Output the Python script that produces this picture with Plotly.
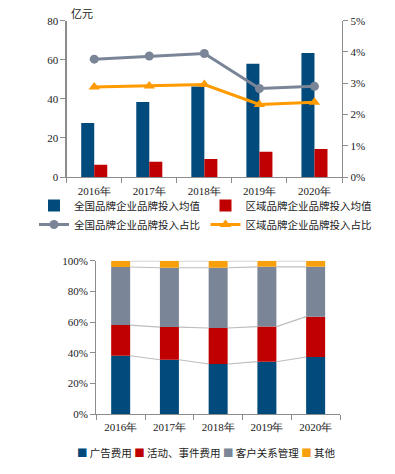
import plotly.graph_objects as go

# ---------------- data ----------------
years = ["2016年", "2017年", "2018年", "2019年", "2020年"]

# top chart
national_avg = [27.6, 38.4, 46.3, 58.0, 63.5]      # 亿元
regional_avg = [6.3, 7.8, 9.2, 12.9, 14.3]         # 亿元
national_ratio = [0.0377, 0.0387, 0.0395, 0.0283, 0.0290]
regional_ratio = [0.0288, 0.0291, 0.0296, 0.0232, 0.0239]

# bottom chart (shares, %)
ads = [38.0, 35.4, 32.6, 34.1, 37.2]
events = [20.0, 21.3, 23.5, 22.9, 26.3]
crm = [37.9, 38.7, 39.3, 39.0, 32.5]
other = [4.1, 4.6, 4.6, 4.0, 4.0]
seg_names = ["广告费用", "活动、事件费用", "客户关系管理", "其他"]

# ---------------- styles ----------------
NAVY = "#014A7C"
RED = "#C00000"
GRAY = "#7A8698"
ORANGE = "#FF9A00"
AXIS = "#8C8C8C"
SERIF = "Liberation Serif, Times New Roman, serif"
SANS = "Noto Sans CJK SC, Noto Sans, sans-serif"
W, H = 395, 474

fig = go.Figure()

# ----- top chart -----
fig.add_trace(go.Bar(x=years, y=national_avg, name="全国品牌企业品牌投入均值",
                     marker=dict(color=NAVY, line=dict(width=0)),
                     xaxis="x", yaxis="y", legend="legend"))
fig.add_trace(go.Bar(x=years, y=regional_avg, name="区域品牌企业品牌投入均值",
                     marker=dict(color=RED, line=dict(width=0)),
                     xaxis="x", yaxis="y", legend="legend"))
fig.add_trace(go.Scatter(x=years, y=national_ratio, name="全国品牌企业品牌投入占比",
                         mode="lines+markers",
                         line=dict(color=GRAY, width=3),
                         marker=dict(symbol="circle", size=9, color=GRAY),
                         xaxis="x", yaxis="y2", legend="legend"))
fig.add_trace(go.Scatter(x=years, y=regional_ratio, name="区域品牌企业品牌投入占比",
                         mode="lines+markers",
                         line=dict(color=ORANGE, width=3),
                         marker=dict(symbol="triangle-up", size=10, color=ORANGE),
                         xaxis="x", yaxis="y2", legend="legend"))

# ----- bottom chart (stacked via base) -----
seg_vals = [ads, events, crm, other]
seg_cols = [NAVY, RED, "#7A8597", "#F7A00C"]
BW = 0.39
base = [0.0] * len(years)
levels = []
for nm, vals, col in zip(seg_names, seg_vals, seg_cols):
    fig.add_trace(go.Bar(x=years, y=vals, base=list(base), name=nm,
                         width=BW, offsetgroup="share", showlegend=False,
                         marker=dict(color=col, line=dict(width=0)),
                         xaxis="x2", yaxis="y3"))
    base = [b + v for b, v in zip(base, vals)]
    levels.append(list(base))

# connector lines between stacked bars
for k, lev in enumerate(levels):
    xs, ys = [], []
    for i in range(len(years) - 1):
        xs += [i + BW / 2, i + 1 - BW / 2, None]
        ys += [lev[i], lev[i + 1], None]
    top = k == len(levels) - 1
    fig.add_trace(go.Scatter(x=xs, y=ys, mode="lines", showlegend=False,
                             hoverinfo="skip",
                             line=dict(color="#D3D3D3" if top else "#BDBDBD",
                                       width=2 if top else 1.2),
                             xaxis="x3", yaxis="y3"))

# compact key for the bottom chart (coloured squares + series names)
key_text = " ".join(
    f"<span style='color:{c}'>■</span> {n}" for n, c in zip(seg_names, seg_cols)
)

# ---------------- layout ----------------
tickfont = dict(family=SERIF, size=11, color="#1a1a1a")
common_axis = dict(showline=True, linecolor=AXIS, linewidth=1.3, ticks="outside",
                   tickcolor=AXIS, ticklen=5, showgrid=False, zeroline=False,
                   tickfont=tickfont, automargin=False)

top_y0, top_y1 = (H - 177) / H, (H - 20.7) / H
bot_y0, bot_y1 = (H - 414) / H, (H - 260.7) / H

fig.update_layout(
    template="none",
    width=W, height=H, autosize=False,
    margin=dict(l=0, r=0, t=0, b=0),
    paper_bgcolor="white", plot_bgcolor="white",
    barmode="group", bargap=0.527, bargroupgap=0,
    hovermode=False,
    xaxis=dict(domain=[66.7 / W, 342 / W], anchor="y", type="category",
               tickson="boundaries", range=[-0.5, 4.5], ticklabelstandoff=3,
               **common_axis),
    yaxis=dict(domain=[top_y0, top_y1], anchor="x", range=[0, 80], dtick=20,
               tickmode="linear", tick0=0, **common_axis),
    yaxis2=dict(overlaying="y", side="right", anchor="x", range=[0, 0.05],
                dtick=0.01, tick0=0, tickmode="linear", tickformat=".0%",
                **common_axis),
    xaxis2=dict(domain=[96.3 / W, 340 / W], anchor="y3", type="category",
                tickson="boundaries", range=[-0.5, 4.5], ticklabelstandoff=2,
                **common_axis),
    yaxis3=dict(domain=[bot_y0, bot_y1], anchor="x2", range=[0, 100], dtick=20,
                tickmode="linear", tick0=0, ticksuffix="%", **common_axis),
    xaxis3=dict(overlaying="x2", anchor="y3", range=[-0.5, 4.5], visible=False),
    legend=dict(orientation="h", x=34 / W, xanchor="left",
                y=(H - 191) / H, yanchor="top",
                font=dict(family=SANS, size=10.5, color="#1a1a1a"),
                itemwidth=30, tracegroupgap=0, bgcolor="rgba(0,0,0,0)"),
    annotations=[
        dict(text="亿元", xref="paper", yref="paper",
             x=69 / W, y=(H - 13) / H, xanchor="left", yanchor="middle",
             showarrow=False, font=dict(family=SANS, size=11, color="#1a1a1a")),
        dict(text=key_text, xref="paper", yref="paper",
             x=206 / W, y=(H - 452) / H, xanchor="center", yanchor="middle",
             showarrow=False, font=dict(family=SANS, size=10.5, color="#1a1a1a")),
    ],
)

fig.write_html("out.html", config={"displayModeBar": False, "staticPlot": True},
               post_script="document.body.style.margin='0px';document.body.style.overflow='hidden';")
